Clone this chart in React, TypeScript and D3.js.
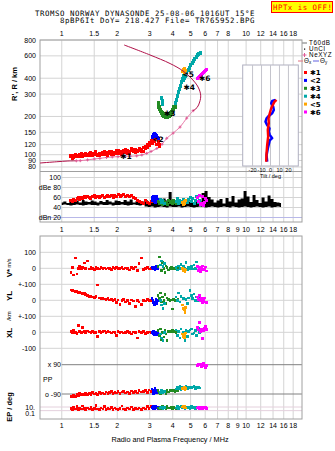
import React from 'react';
import * as d3 from 'd3';

// ---------- ticks / labels ----------
const topFreqTicks = [1, 1.5, 2, 3, 4, 5, 6, 7, 8, 10, 12, 14, 16, 18];
const bottomFreqTicks = [1, 1.5, 2, 3, 4, 5, 6, 7, 8, 9, 10, 12, 14, 16, 18];
const heightTicks = [800, 600, 400, 300, 200, 150, 120, 100, 90, 80];
const dbTicks = [100, 80, 60, 40, 20];
const dbTickLabels = ['100', 'dBe 80', '60', '40', 'dBn 20'];
const tiltTicks = [-20, -10, 0, 10, 20];

const modeNames = ['✱1', '<2', '✱3', '✱4', '<5', '✱6'];
const modeColors = ['#ff0000', '#0000ff', '#228b22', '#00a8a8', '#ffa500', '#ff00ff'];
const labelF = [2.23, 3.33, 3.85, 4.91, 4.85, 5.97];
const labelH = [97.7, 133.6, 212, 339, 432, 404];

// ---------- profiles ----------
const crimsonLowF = [0.762, 0.94, 1.08, 1.2];
const crimsonLowH = [86, 88, 89.2, 89.5];
const crimsonTopF = [5.16, 5.42, 5.6, 5.67, 5.49, 5.09, 4.55, 3.87, 3.01, 2.18];
const crimsonTopH = [222, 235, 260, 294, 341, 394, 456, 522, 610, 731];
const neF = [1.2, 1.26, 1.38, 1.5, 1.61, 1.75, 1.88, 2.02, 2.18, 2.35, 2.55, 2.72, 2.89, 3.05, 3.28, 3.5, 3.71, 4.02, 4.38, 4.76, 5.16];
const neH = [89.5, 89.7, 91, 92.5, 93.6, 95, 96, 96.5, 97, 97.4, 97.9, 99.5, 102.5, 106, 112, 121, 134.6, 148, 165, 194, 222];

// ---------- tilt inset ----------
const tiltXT = [-4.8, -4.4, -3.7, -2.6, -3.0, -1.9, -2.2, -0.8, 0.8, 2.6, 4.4, 6.7];
const tiltXH = [88, 103, 119, 139, 157, 177, 193, 212, 232, 246, 261, 270];
const tiltYT = [-3.7, -4.4, -3.0, -0.8, 1.9, -0.8, -1.9, -1.1, -3.7, -5.6, -4.4, -1.9, 1.9, 3.7, 3.0, 0.8, 1.9, 5.6];
const tiltYH = [88, 99, 112, 130, 135, 143, 152, 161, 171, 182, 193, 202, 212, 225, 239, 254, 265, 270];

// ---------- mode 1 (red) ----------
const redF = [1.12, 1.14, 1.16, 1.19, 1.21, 1.23, 1.25, 1.28, 1.30, 1.33, 1.35, 1.38, 1.41, 1.44, 1.47, 1.50, 1.53, 1.56, 1.60, 1.63, 1.67, 1.70, 1.74, 1.78, 1.82, 1.86, 1.90, 1.94, 1.98, 2.02, 2.07, 2.12, 2.17, 2.22, 2.27, 2.33, 2.39, 2.45, 2.51, 2.57, 2.63, 2.70, 2.77, 2.84, 2.91, 2.98, 3.05, 3.12, 3.20, 3.28, 3.35, 3.40];
const redH = [96, 94, 98, 97, 99, 96, 100, 98, 97, 101, 99, 98, 102, 100, 99, 103, 100, 101, 99, 102, 104, 101, 100, 103, 102, 105, 101, 104, 107, 103, 102, 106, 108, 104, 103, 106, 112, 105, 104, 108, 107, 110, 106, 112, 114, 118, 122, 126, 128, 120, 125, 116];
const redH2 = [99, 97, 95, 100, 96, 99, 97, 102, 100, 98, 103, 101, 99, 104, 102, 100, 105, 98, 103, 100, 101, 106, 104, 99, 105, 100, 104, 102, 103, 108, 106, 101, 104, 110, 107, 102, 108, 109, 110, 105, 112, 106, 113, 116, 120, 124, 130, 122, 132, 134, 128, 121];
const redV = [-25, 5, -42, 64, -35, 0, 10, -5, 5, 33, 0, 45, -5, 8, 0, -6, 5, 0, -4, 6, 0, 3, -5, 2, 0, -8, 5, 0, 4, -3, 0, 6, -4, 2, 0, -10, 5, 0, 8, -15, 30, 64, -8, 0, 5, -5, 0, null, null, null, null, null];
const redYL = [64, 60, 58, 55, 56, 50, 52, 45, 40, 42, 35, 30, 25, 28, 20, 18, 22, 95, 15, 10, 12, 8, 5, 10, 3, 6, 0, 4, -15, 2, -25, 0, 5, -10, 0, -20, 3, -5, -40, 0, -10, -25, 0, -5, 5, 0, -3, null, null, null, null, null];
const redXL = [5, -5, 10, 0, -8, 44, 5, 0, 30, 5, 0, 8, 3, 0, 5, -3, 0, -28, 6, 0, 4, 8, 0, 5, 2, -5, 3, 0, -20, 5, 0, 3, -4, 0, 6, 0, -10, 3, 0, -35, 5, 0, 4, -6, 0, 3, 0, null, null, null, null, null];
const redPP = [-105, -108, -100, -104, -92, -98, -88, -95, -90, -96, -85, -92, -88, -94, -82, -90, -86, -93, -80, -88, -84, -90, -78, -86, -82, -76, -88, -80, -85, -76, -86, -78, -74, -84, -78, -86, -72, -80, -76, -84, -70, -78, -74, -68, -82, -66, -74, null, null, null, null, null];
const redEP = [4, 2, 8, 3, 15, 2, 5, 3, 20, 4, 2, 6, 3, 10, 2, 4, 25, 3, 2, 5, 3, 12, 2, 4, 3, 8, 2, 5, 3, 2, 4, 18, 3, 2, 5, 3, 10, 2, 4, 3, 6, 2, 5, 3, 15, 4, 12, null, null, null, null, null];
const redDB = [55, 52, 57, 54, 58, 60, 56, 61, 59, 62, 60, 63, 61, 58, 62, 64, 60, 63, 61, 62, 64, 60, 63, 65, 62, 64, 61, 65, 63, 66, 62, 64, 67, 63, 65, 62, 64, 60, 58, 55, 52, 50, 48, 54, 51, 49, 53, null, null, null, null, null];

// ---------- mode 2 (blue) ----------
const blueF = [3.09, 3.12, 3.15, 3.18, 3.21, 3.24, 3.27, 3.30, 3.33];
const blueH = [136, 140, 145, 148, 143, 139, 141, 137, 134];
const blueV = [5, -5, 8, 0, -8, 3, 10, -3, 0];
const blueYL = [10, 0, -15, -25, -10, 5, -20, -5, 0];
const blueXL = [0, -10, 5, -15, 3, -5, 0, -12, 2];
const bluePP = [-60, -75, -88, -70, -55, -80, -65, -85, -72];
const blueEP = [8, 4, 15, 3, 6, 12, 5, 9, 4];
const blueDB = [60, 55, 63, 52, 58, 50, 62, 56, 54];

// ---------- mode 3 (green) ----------
const greenTopF = [3.33, 3.36, 3.40, 3.44, 3.48, 3.52, 3.56, 3.61, 3.66, 3.71, 3.76, 3.81, 3.86, 3.91, 3.96, 4.01, 4.06, 4.12];
const greenTopH = [255, 246, 236, 226, 218, 212, 208, 205, 203, 202, 203, 205, 208, 212, 218, 226, 236, 246];
const greenTopH2 = [245, 238, 228, 220, 212, 207, 203, 200, 198, 197, 198, 200, 203, 207, 212, 219, 228, 238];
const greenF = [3.33, 3.38, 3.43, 3.48, 3.53, 3.58, 3.63, 3.68, 3.73, 3.78, 3.87, 3.93, 3.99, 4.05, 4.11, 4.17, 4.23, 4.28];
const greenV = [10, 70, 20, -15, 35, 0, -25, 15, 5, -10, 0, 5, -3, 2, 0, -5, 3, 0];
const greenYL = [30, 10, 45, -10, 20, 0, 35, -20, 15, 5, 0, 3, -55, 5, 0, 2, -3, 5];
const greenXL = [10, -20, 20, -45, 0, -30, 15, -10, -50, 5, 8, 5, 10, 3, 6, 0, 4, 2];
const greenPP = [-70, -80, -90, -65, -85, -75, -72, -88, -68, -78, -70, -65, -72, -68, -74, -66, -70, -62];
const greenEP = [6, 3, 10, 4, 15, 5, 8, 3, 12, 6, 5, 8, 4, 10, 6, 3, 7, 5];
const greenDB = [52, 48, 55, 50, 46, 53, 49, 51, 47, 54, 50, 52, 48, 55, 51, 49, 53, 50];

// ---------- mode 4 (teal) ----------
const tealTopF = [3.46, 3.50, 3.54, 4.12, 4.17, 4.22, 4.28, 4.33, 4.38, 4.44, 4.50, 4.55, 4.61, 4.66, 4.55, 4.61, 4.69, 4.77, 4.85, 4.93, 5.01, 5.10, 5.18, 5.27, 5.36, 5.45, 5.54, 5.63];
const tealTopH = [280, 265, 252, 255, 270, 290, 310, 330, 350, 372, 395, 415, 432, 450, 385, 400, 420, 440, 462, 485, 505, 525, 545, 565, 585, 605, 620, 635];
const tealF = [3.42, 3.48, 3.54, 3.60, 4.17, 4.23, 4.30, 4.37, 4.44, 4.51, 4.58, 4.65, 4.72, 4.80, 4.88, 4.97, 5.05, 5.13, 5.22, 5.30, 5.40, 5.50, 5.60];
const tealV = [20, 45, 10, 30, 5, -10, 15, 0, 25, -5, 10, 0, 35, -8, 5, 0, 10, -5, 20, 0, 40, -10, 5];
const tealYL = [0, -30, -50, -20, 20, 0, 45, -10, 25, -30, 10, -45, 5, -20, 15, 60, 30, 10, 40, 0, 20, -5, 15];
const tealXL = [-10, -35, -50, 0, 15, -20, 5, -35, 20, -10, 0, -50, 10, -25, 5, 15, 20, -10, -5, 10, -20, 25, 0];
const tealPP = [-80, -70, -85, -75, -60, -50, -55, -45, -62, -48, -52, -58, -44, -56, -50, -46, -52, -48, -44, -55, -50, -46, -53];
const tealEP = [5, 10, 3, 8, 6, 12, 4, 9, 15, 5, 7, 3, 10, 6, 8, 4, 12, 6, 9, 4, 7, 11, 5];
const tealDB = [56, 50, 54, 48, 52, 58, 48, 55, 50, 53, 57, 49, 54, 51, 56, 60, 52, 58, 49, 55, 62, 50, 54];

// ---------- mode 5 (orange) ----------
const orangeF = [4.52, 4.57, 4.62, 4.66, 4.70];
const orangeH = [455, 470, 445, 480, 460];
const orangeV = [0, -15, -5, -20, -10];
const orangeYL = [-30, -50, -60, -75, -45];
const orangeXL = [-10, -25, -35, -20, -5];
const orangePP = [-55, -60, -50, -62, -58];
const orangeEP = [10, 15, 8, 12, 6];
const orangeDB = [50, 46, 52, 48, 54];

// ---------- mode 6 (magenta) ----------
const magentaF = [5.45, 5.52, 5.59, 5.66, 5.73, 5.80, 5.88, 5.95, 6.03, 6.10];
const magentaH = [398, 405, 412, 420, 428, 436, 445, 453, 462, 470];
const magentaV = [10, -15, 5, -20, 0, 15, -10, -5, 8, -18];
const magentaYL = [20, 5, 30, -5, 10, -15, 0, 15, -10, -12];
const magentaXL = [30, 15, 62, 5, 20, -38, 10, 25, 35, 18];
const magentaPP = [85, 95, 88, 92, 80, 90, 96, 84, 70, 86];
const magentaEP = [5, 8, 4, 10, 6, 3, 7, 5, 9, 4];
const magentaDB = [60, 52, 64, 46, 48, 62, 44, 50, 58, 54];

// ---------- amplitude / noise (black) ----------
const blackF = [1.00, 1.04, 1.08, 1.12, 1.17, 1.21, 1.26, 1.31, 1.35, 1.41, 1.46, 1.52, 1.57, 1.63, 1.70, 1.76, 1.83, 1.90, 1.97, 2.05, 2.12, 2.21, 2.29, 2.38, 2.47, 2.56, 2.66, 2.76, 2.87, 2.98, 3.09, 3.21, 3.33, 3.46, 3.59, 3.73, 3.87, 4.02, 4.17, 4.33, 4.49, 4.66, 4.84, 5.03, 5.22, 5.42, 5.63, 5.84, 6.06, 6.30, 6.54, 6.79, 7.04, 7.31, 7.59, 7.88, 8.18, 8.49, 8.82, 9.16, 9.51, 9.87, 10.24, 10.64, 11.04, 11.46, 11.90, 12.36, 12.83, 13.32, 13.82, 14.35, 14.90, 15.47];
const blackTop = [50, 52, 49, 53, 51, 54, 50, 55, 52, 51, 54, 52, 50, 53, 51, 55, 52, 50, 54, 53, 51, 55, 52, 56, 50, 53, 49, 52, 55, 49, 51, 53, 50, 52, 58, 54, 71, 50, 54, 52, 49, 55, 51, 53, 50, 54, 52, 69, 73, 61, 56, 50, 54, 57, 48, 59, 52, 63, 50, 56, 58, 73, 62, 51, 65, 55, 49, 60, 52, 64, 57, 51, 50, 49];
const blackBase = [45, 46, 45, 44, 45, 46, 45, 44, 45, 46, 45, 45, 44, 46, 45, 45, 46, 44, 45, 45, 46, 45, 44, 45, 46, 45, 44, 45, 42, 41, 42, 40, 41, 42, 41, 40, 42, 41, 41, 42, 40, 41, 42, 41, 40, 41, 42, 41, 40, 41, 42, 41, 40, 41, 42, 41, 40, 42, 41, 40, 41, 42, 41, 40, 41, 42, 41, 40, 41, 42, 40, 41, 42, 41];

const SANS = "'Liberation Sans', Arial, sans-serif";
const MONO = "'DejaVu Sans Mono', monospace";
const SYM = "'DejaVu Sans', sans-serif";
const GRID = '#d4d4d4';
const FRAME = '#a0a0a0';

type Scale = (v: number) => number;

function Pts({ F, V, sx, sy, color, w = 3, h = 3 }: { F: number[]; V: (number | null)[]; sx: Scale; sy: Scale; color: string; w?: number; h?: number }) {
  return (
    <g fill={color} shapeRendering="crispEdges">
      {F.map((f, i) => {
        const v = V[i];
        if (v == null) return null;
        return <rect key={i} x={sx(f) - w / 2} y={sy(v) - h / 2} width={w} height={h} />;
      })}
    </g>
  );
}

export default function App() {
  const fx = d3.scaleLog().domain([0.762, 20.1]).range([40, 302]);
  const hy = d3.scaleLog().domain([74.4, 800]).range([171, 40]);
  const dby = d3.scaleLinear().domain([11, 111]).range([222, 172]);
  const vy = d3.scaleLinear().domain([-100, 100]).range([284.3, 252.3]);
  const yly = d3.scaleLinear().domain([-100, 100]).range([316.3, 284.3]);
  const xly = d3.scaleLinear().domain([-100, 100]).range([348.3, 316.3]);
  const ppy = d3.scaleLinear().domain([-90, 90]).range([394, 364.7]);
  const epy = d3.scaleLog().domain([0.1, 10]).range([414.3, 407]);
  const tx = d3.scaleLinear().domain([-31, 31]).range([242.7, 298.3]);

  const profLine = d3.line<number>().curve(d3.curveCatmullRom);
  const crimsonLow = profLine(crimsonLowF.map((f, i) => [fx(f), hy(crimsonLowH[i])] as any));
  const crimsonTop = profLine(crimsonTopF.map((f, i) => [fx(f), hy(crimsonTopH[i])] as any));
  const nePath = profLine(neF.map((f, i) => [fx(f), hy(neH[i])] as any));
  const tiltLine = d3.line<number>();
  const tiltX = tiltLine(tiltXT.map((t, i) => [tx(t), hy(tiltXH[i])] as any));
  const tiltY = tiltLine(tiltYT.map((t, i) => [tx(t), hy(tiltYH[i])] as any));
  const blackArea = d3
    .area<number>()
    .x((d) => fx(blackF[d]))
    .y0((d) => dby(blackBase[d]))
    .y1((d) => dby(blackTop[d]))
    .curve(d3.curveStep)(blackF.map((_, i) => i));

  const lowerModes = [
    { F: redF, V: redV, YL: redYL, XL: redXL, PP: redPP, EP: redEP, DB: redDB, c: modeColors[0] },
    { F: blueF, V: blueV, YL: blueYL, XL: blueXL, PP: bluePP, EP: blueEP, DB: blueDB, c: modeColors[1] },
    { F: greenF, V: greenV, YL: greenYL, XL: greenXL, PP: greenPP, EP: greenEP, DB: greenDB, c: modeColors[2] },
    { F: tealF, V: tealV, YL: tealYL, XL: tealXL, PP: tealPP, EP: tealEP, DB: tealDB, c: modeColors[3] },
    { F: orangeF, V: orangeV, YL: orangeYL, XL: orangeXL, PP: orangePP, EP: orangeEP, DB: orangeDB, c: modeColors[4] },
    { F: magentaF, V: magentaV, YL: magentaYL, XL: magentaXL, PP: magentaPP, EP: magentaEP, DB: magentaDB, c: modeColors[5] },
  ];

  const rowLines = [
    { y: vy(100), label: '100' },
    { y: vy(0), label: '0' },
    { y: yly(100), label: '+-100' },
    { y: yly(0), label: '0' },
    { y: xly(100), label: '+-100' },
    { y: xly(0), label: '0' },
    { y: xly(-100), label: '-100' },
  ];

  const legendTop = [
    { y: 43, label: 'T60dB' },
    { y: 49, label: 'UnCl' },
    { y: 55, label: 'NeXYZ' },
  ];

  return (
    <svg width={335} height={451} style={{ position: 'absolute', left: 0, top: 0, background: '#fff' }} fontFamily={SANS}>
      <defs>
        <clipPath id="cTop"><rect x={40} y={40} width={262} height={131} /></clipPath>
        <clipPath id="cDb"><rect x={40} y={172} width={262} height={50} /></clipPath>
        <clipPath id="cLow"><rect x={40} y={236} width={262} height={183} /></clipPath>
      </defs>
      <rect x={0} y={0} width={335} height={451} fill="#fff" />

      {/* header */}
      <text x={35} y={15.5} fontFamily={MONO} fontSize={7.4} letterSpacing={0.55} fill="#000">TROMSO NORWAY   DYNASONDE 25-08-06 1016UT 15°E</text>
      <text x={60} y={23.3} fontFamily={MONO} fontSize={7.4} letterSpacing={0.55} fill="#000">8pBP6It DoY= 218.427 File= TR765952.BPG</text>
      <rect x={271.5} y={1.5} width={61} height={11} fill="#ffff00" stroke="#ff0000" strokeWidth={1} />
      <text x={273} y={10.3} fontFamily={MONO} fontSize={7.4} letterSpacing={0.5} fill="#ff0000">HPTx is OFF!</text>

      {/* ===== top panel ===== */}
      <g>
        {topFreqTicks.map((t) => (
          <line key={'vg' + t} x1={fx(t)} x2={fx(t)} y1={40} y2={222} stroke={GRID} strokeWidth={1} />
        ))}
        {heightTicks.map((t) => (
          <line key={'hg' + t} x1={40} x2={302} y1={hy(t)} y2={hy(t)} stroke={GRID} strokeWidth={1} />
        ))}
        {dbTicks.slice(0, 4).map((t) => (
          <line key={'dg' + t} x1={fx(1)} x2={302} y1={dby(t)} y2={dby(t)} stroke={GRID} strokeWidth={1} />
        ))}
        <line x1={40} x2={302} y1={dby(20)} y2={dby(20)} stroke="#b8b8e8" strokeWidth={1} />
        <line x1={40} x2={302} y1={171.5} y2={171.5} stroke={FRAME} strokeWidth={1} />
        <rect x={40} y={40} width={262} height={182} fill="none" stroke={FRAME} strokeWidth={1} />

        {topFreqTicks.map((t) => (
          <text key={'tl' + t} x={fx(t)} y={35.5} fontSize={7} textAnchor="middle" fill="#000">{t}</text>
        ))}
        {heightTicks.map((t) => (
          <text key={'hl' + t} x={36} y={hy(t) + 2.5} fontSize={7} textAnchor="end" fill="#000">{t}</text>
        ))}
        {dbTicks.map((t, i) => (
          <text key={'dl' + t} x={61} y={dby(t) + 2.5} fontSize={7} textAnchor="end" fill="#000">{dbTickLabels[i]}</text>
        ))}
        <text transform="translate(16.5,84) rotate(-90)" fontSize={7.5} fontWeight="bold" textAnchor="middle" fill="#000">R', R / km</text>

        {/* tilt inset */}
        <rect x={242.7} y={65} width={55.6} height={101} fill="#fff" stroke="#b0b0c0" strokeWidth={1} />
        {tiltTicks.map((t) => (
          <line key={'tg' + t} x1={tx(t)} x2={tx(t)} y1={65} y2={166} stroke="#c4c4cc" strokeWidth={1} />
        ))}
        <path d={tiltY || ''} fill="none" stroke="#0000ff" strokeWidth={2.5} strokeLinejoin="round" />
        <path d={tiltX || ''} fill="none" stroke="#ff0000" strokeWidth={2.5} strokeLinejoin="round" />
        {tiltTicks.map((t) => (
          <text key={'tt' + t} x={tx(t)} y={172} fontSize={5.5} textAnchor="middle" fill="#000">{t}</text>
        ))}
        <text x={270.5} y={177.5} fontSize={5.5} textAnchor="middle" fill="#000">Tilt / deg</text>

        <g clipPath="url(#cTop)">
          <path d={crimsonLow || ''} fill="none" stroke="#b01048" strokeWidth={1} />
          <path d={nePath || ''} fill="none" stroke="#e87aa8" strokeWidth={1} />
          {neF.map((f, i) => (
            <path key={'nm' + i} d={`M${fx(f) - 1.5},${hy(neH[i])}h3M${fx(f)},${hy(neH[i]) - 1.5}v3`} stroke="#e05a96" strokeWidth={1} />
          ))}
          <Pts F={redF} V={redH} sx={fx} sy={hy} color={modeColors[0]} />
          <Pts F={redF} V={redH2} sx={fx} sy={hy} color={modeColors[0]} />
          <Pts F={blueF} V={blueH} sx={fx} sy={hy} color={modeColors[1]} />
          <Pts F={greenTopF} V={greenTopH} sx={fx} sy={hy} color={modeColors[2]} w={3} h={4} />
          <Pts F={greenTopF} V={greenTopH2} sx={fx} sy={hy} color={modeColors[2]} w={3} h={4} />
          <Pts F={tealTopF} V={tealTopH} sx={fx} sy={hy} color={modeColors[3]} w={3} h={4} />
          <Pts F={orangeF} V={orangeH} sx={fx} sy={hy} color={modeColors[4]} w={3} h={3} />
          <Pts F={magentaF} V={magentaH} sx={fx} sy={hy} color={modeColors[5]} w={3} h={3} />
          <path d={crimsonTop || ''} fill="none" stroke="#b01048" strokeWidth={1} />
          {modeNames.map((m, i) => (
            <text key={'ml' + i} x={fx(labelF[i])} y={hy(labelH[i]) + 3} fontSize={7.5} fontWeight="bold" textAnchor="middle" fontFamily={SYM} fill="#000">{m}</text>
          ))}
        </g>

        <g clipPath="url(#cDb)">
          <path d={blackArea || ''} fill="#000" />
          {lowerModes.map((m, i) => (
            <Pts key={'db' + i} F={m.F} V={m.DB} sx={fx} sy={dby} color={m.c} w={3} h={3} />
          ))}
        </g>

        {/* legend */}
        <line x1={302} x2={307} y1={43} y2={43} stroke="#a0a0a0" strokeWidth={1.5} />
        <rect x={304} y={48.5} width={1.2} height={1.2} fill="#000" />
        <path d="M302.5,55h4M304.5,53v4" stroke="#e05a96" strokeWidth={1} />
        {legendTop.map((l) => (
          <text key={l.label} x={309} y={l.y + 2.2} fontSize={6.3} letterSpacing={0.6} fill="#000">{l.label}</text>
        ))}
        <line x1={298} x2={303} y1={61} y2={61} stroke="#e07080" strokeWidth={1} />
        <text x={304} y={63.2} fontSize={6.3} fill="#000">Θ<tspan fontSize={4.5} dy={0.8}>x</tspan></text>
        <line x1={313} x2={319} y1={61} y2={61} stroke="#6060e0" strokeWidth={1} />
        <text x={320} y={63.2} fontSize={6.3} fill="#000">Θ<tspan fontSize={4.5} dy={0.8}>y</tspan></text>
        {modeNames.map((m, i) => (
          <g key={'lg' + i}>
            <rect x={304} y={72.5 + i * 7.9 - 1.5} width={3} height={3} fill={modeColors[i]} />
            <text x={310} y={72.5 + i * 7.9 + 2.6} fontSize={7} fontWeight="bold" fontFamily={SYM} fill="#000">{m}</text>
          </g>
        ))}
      </g>

      {/* middle frequency labels */}
      {bottomFreqTicks.map((t) => (
        <text key={'ml' + t} x={fx(t)} y={231.5} fontSize={7} textAnchor="middle" fill="#000">{t}</text>
      ))}

      {/* ===== lower panel ===== */}
      <g>
        {bottomFreqTicks.map((t) => (
          <line key={'lvg' + t} x1={fx(t)} x2={fx(t)} y1={236} y2={419} stroke={GRID} strokeWidth={1} />
        ))}
        {rowLines.map((r, i) => (
          <line key={'rl' + i} x1={40} x2={302} y1={r.y} y2={r.y} stroke={GRID} strokeWidth={1} />
        ))}
        <line x1={fx(1)} x2={302} y1={ppy(90)} y2={ppy(90)} stroke="#808080" strokeWidth={1} />
        <line x1={fx(1)} x2={302} y1={ppy(-90)} y2={ppy(-90)} stroke="#808080" strokeWidth={1} />
        <line x1={40} x2={302} y1={epy(10)} y2={epy(10)} stroke="#e4d0dc" strokeWidth={1} />
        <line x1={40} x2={302} y1={epy(1)} y2={epy(1)} stroke="#e4d0dc" strokeWidth={1} />
        <rect x={40} y={236} width={262} height={183} fill="none" stroke={FRAME} strokeWidth={1} />

        {rowLines.map((r, i) => (
          <text key={'rt' + i} x={36} y={r.y + 2.5} fontSize={7} textAnchor="end" fill="#000">{r.label}</text>
        ))}
        <text x={61} y={ppy(90) + 2.5} fontSize={7} textAnchor="end" fill="#000">x  90</text>
        <text x={61} y={ppy(-90) + 2.5} fontSize={7} textAnchor="end" fill="#000">o -90</text>
        <text x={43} y={381.5} fontSize={7} fill="#000">PP</text>
        <text x={35} y={epy(10) + 2.5} fontSize={7} textAnchor="end" fill="#000">10.</text>
        <text x={35} y={epy(0.1) + 2} fontSize={7} textAnchor="end" fill="#000">0.1</text>

        <text transform="translate(11.5,273) rotate(-90)" fontSize={8} fontWeight="bold" textAnchor="middle" fill="#000">V*</text>
        <text transform="translate(11,263) rotate(-90)" fontSize={5.5} textAnchor="middle" fill="#000">m/s</text>
        <text transform="translate(12,296) rotate(-90)" fontSize={8} fontWeight="bold" textAnchor="middle" fill="#000">YL</text>
        <text transform="translate(11,316) rotate(-90)" fontSize={6} textAnchor="middle" fill="#000">/km</text>
        <text transform="translate(12,333) rotate(-90)" fontSize={8} fontWeight="bold" textAnchor="middle" fill="#000">XL</text>
        <text transform="translate(12,407) rotate(-90)" fontSize={7.5} fontWeight="bold" textAnchor="middle" fill="#000">EP / deg</text>

        <g clipPath="url(#cLow)">
          {lowerModes.map((m, i) => (
            <g key={'lm' + i}>
              <Pts F={m.F} V={m.V} sx={fx} sy={vy} color={m.c} w={2.6} h={2.6} />
              <Pts F={m.F} V={m.YL} sx={fx} sy={yly} color={m.c} w={2.6} h={2.6} />
              <Pts F={m.F} V={m.XL} sx={fx} sy={xly} color={m.c} w={2.6} h={2.6} />
              <Pts F={m.F} V={m.PP} sx={fx} sy={ppy} color={m.c} w={2.6} h={2.6} />
              <Pts F={m.F} V={m.EP} sx={fx} sy={epy} color={m.c} w={2.6} h={2.6} />
            </g>
          ))}
        </g>

        {bottomFreqTicks.map((t) => (
          <text key={'bl' + t} x={fx(t)} y={428} fontSize={7} textAnchor="middle" fill="#000">{t}</text>
        ))}
        <text x={170} y={442.3} fontSize={7.3} textAnchor="middle" fill="#000">Radio and Plasma Frequency / MHz</text>
      </g>
    </svg>
  );
}
